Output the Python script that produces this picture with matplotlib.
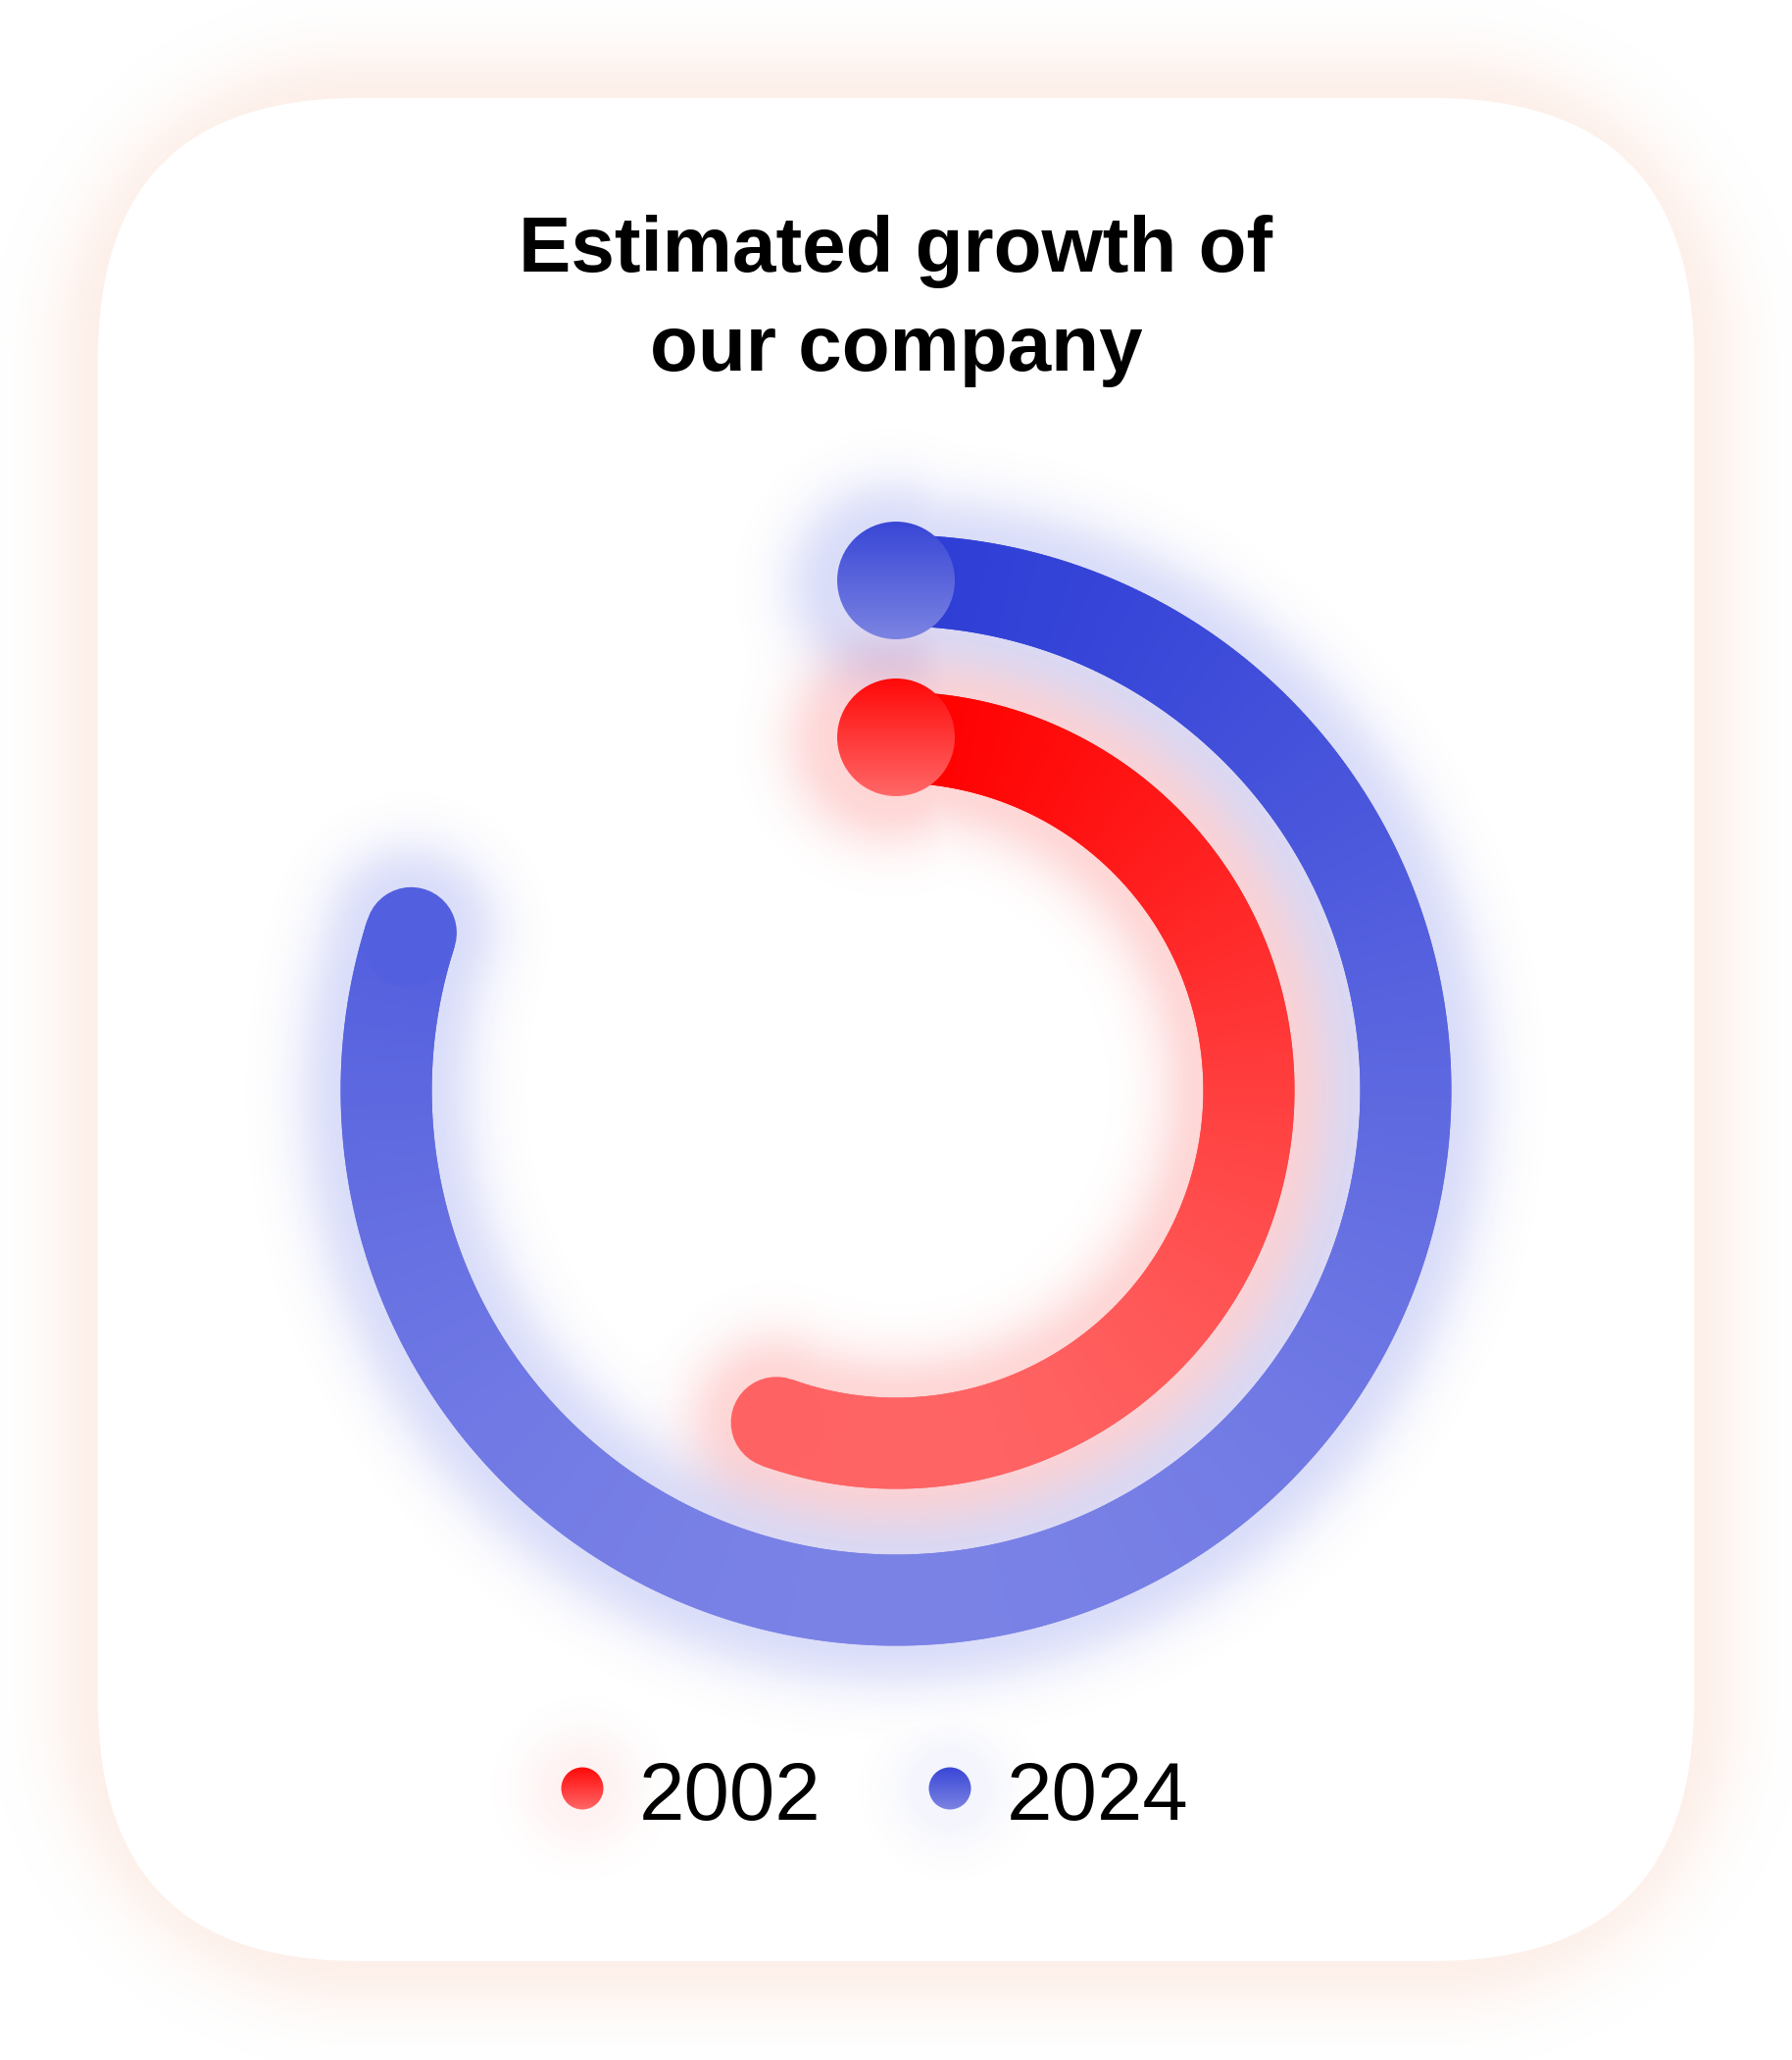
import numpy as np
import matplotlib.pyplot as plt
from matplotlib.patches import FancyBboxPatch, Circle
from matplotlib.collections import LineCollection

# chart data
years = ["2002", "2024"]
growth = [55.5, 80]          # share of a full turn, in percent
ring_radius = [360, 520]     # inner ring for 2002, outer ring for 2024
top_colors = [(255, 0, 0), (46, 62, 214)]
bottom_colors = [(255, 100, 100), (122, 130, 230)]
cap_top = [(255, 8, 8), (56, 70, 214)]
cap_bottom = [(255, 104, 104), (124, 132, 226)]
glow_rgb = [(255, 70, 70), (90, 105, 228)]
title_lines = ["Estimated growth of", "our company"]

W, H, DPI = 1828, 2101, 100
fig = plt.figure(figsize=(W / DPI, H / DPI), dpi=DPI)
fig.patch.set_facecolor("white")


def mix(c0, c1, t):
    c0 = np.array(c0) / 255
    c1 = np.array(c1) / 255
    t = np.clip(np.asarray(t, float), 0, 1)[..., None]
    return c0 * (1 - t) + c1 * t


def grad_fill(ax, patch, top, bottom, x0, x1, y0, y1, z=5):
    ax.add_patch(patch)
    arr = mix(top, bottom, np.linspace(0, 1, 256))[:, None, :]
    img = ax.imshow(arr, extent=(x0, x1, y1, y0), origin="upper",
                    aspect="auto", interpolation="bilinear", zorder=z)
    img.set_clip_path(patch)


def soft(d, amp, sigma):
    d = np.maximum(d, 0)
    return amp * np.exp(-0.5 * (d / sigma) ** 2)


yy, xx = np.mgrid[0:H, 0:W].astype(np.float32) + 0.5

# background: card with a soft peach shadow
bg = fig.add_axes([0, 0, 1, 1])
bg.axis("off")
cx0, cy0, cw, ch, rad = 100, 100, 1628, 1900, 265
qx = np.abs(xx - (cx0 + cw / 2)) - (cw / 2 - rad)
qy = np.abs(yy - (cy0 + ch / 2)) - (ch / 2 - rad)
dcard = np.hypot(np.maximum(qx, 0), np.maximum(qy, 0)) + np.minimum(np.maximum(qx, qy), 0) - rad
shadow = np.zeros((H, W, 4), np.float32)
shadow[..., :3] = np.array([250, 205, 185]) / 255
shadow[..., 3] = soft(dcard, 0.3, 38)
bg.imshow(shadow, extent=(0, W, H, 0), origin="upper", zorder=1, interpolation="bilinear")
bg.add_patch(FancyBboxPatch((cx0, cy0), cw, ch, boxstyle=f"round,pad=0,rounding_size={rad}",
                            fc="white", ec="none", zorder=2))

bg.text(W / 2, 277, title_lines[0], ha="center", va="baseline", fontsize=57.6,
        fontweight="bold", family="Liberation Sans", zorder=4)
bg.text(W / 2, 378, title_lines[1], ha="center", va="baseline", fontsize=57.6,
        fontweight="bold", family="Liberation Sans", zorder=4)

# rings on a polar axes
cx, cy, R = 914, 1112, 720
ax = fig.add_axes([(cx - R) / W, (H - cy - R) / H, 2 * R / W, 2 * R / H], projection="polar")
ax.set_theta_zero_location("N")
ax.set_theta_direction(-1)
ax.set_rlim(0, R)
ax.axis("off")

lw_px = 93
lw = lw_px * 72 / DPI
to_px = lambda p: bg.transData.inverted().transform(ax.transData.transform(p))
ocx, ocy = to_px((0, 0))

# legend
leg_x = [594, 969]
leg_y = 1824

glow_alpha = []
for i in range(len(years)):
    theta = np.linspace(0, growth[i] / 100 * 2 * np.pi, 600)
    r = np.full_like(theta, ring_radius[i])
    pts = np.column_stack([theta, r])
    segs = [pts[j:j + 3] for j in range(len(pts) - 2)]
    tmid = (1 - np.cos(theta[1:-1])) / 2
    cols = mix(top_colors[i], bottom_colors[i], tmid ** 0.7)
    ax.add_collection(LineCollection(segs, colors=cols, linewidths=lw,
                                     capstyle="butt", zorder=3))
    ax.plot(theta[-3:], r[-3:], color=cols[-1], lw=lw, solid_capstyle="round", zorder=3)

    # soft glow around the ring, its start knob and its legend dot
    p0 = to_px((theta[0], ring_radius[i]))
    p1 = to_px((theta[-1], ring_radius[i]))
    rho = np.hypot(xx - ocx, yy - ocy)
    phi = np.arctan2(xx - ocx, -(yy - ocy)) % (2 * np.pi)
    d_end = np.minimum(np.hypot(xx - p0[0], yy - p0[1]), np.hypot(xx - p1[0], yy - p1[1]))
    d_arc = np.where(phi <= theta[-1], np.abs(rho - ring_radius[i]), d_end) - lw_px / 2
    d_knob = np.hypot(xx - p0[0] + 6, yy - p0[1] - 4) - 62
    a = soft(np.minimum(d_arc, d_knob), 0.22, 34)
    d_leg = np.hypot(xx - leg_x[i], yy - leg_y) - 21
    a = np.maximum(a, soft(d_leg, 0.07, 30))
    glow_alpha.append(a)

ar, ab = glow_alpha
a_tot = 1 - (1 - ar) * (1 - ab)
cr = np.array(glow_rgb[0]) / 255
cb = np.array(glow_rgb[1]) / 255
rgb = (cr * (ar * (1 - ab))[..., None] + cb * ab[..., None]) / np.maximum(a_tot, 1e-6)[..., None]
glow = np.dstack([rgb, a_tot]).astype(np.float32)
bg.imshow(glow, extent=(0, W, H, 0), origin="upper", zorder=3, interpolation="bilinear")

for i, yr in enumerate(years):
    grad_fill(bg, Circle((leg_x[i], leg_y), 21.5, fc="none", ec="none"),
              cap_top[i], cap_bottom[i], leg_x[i] - 22, leg_x[i] + 22,
              leg_y - 22, leg_y + 22, z=4)
    bg.text(leg_x[i] + 58, 1856, yr, ha="left", va="baseline", fontsize=60,
            family="Liberation Sans", color="black", zorder=4)
bg.set_xlim(0, W)
bg.set_ylim(H, 0)

# start knobs drawn on top
top = fig.add_axes([0, 0, 1, 1])
top.axis("off")
top.set_xlim(0, W)
top.set_ylim(H, 0)
for i in range(len(years)):
    px, py = to_px((0, ring_radius[i]))
    grad_fill(top, Circle((px, py), 60, fc="none", ec="none"),
              cap_top[i], cap_bottom[i], px - 61, px + 61, py - 61, py + 61, z=4)
top.set_xlim(0, W)
top.set_ylim(H, 0)

fig.savefig("out.png", dpi=DPI)
